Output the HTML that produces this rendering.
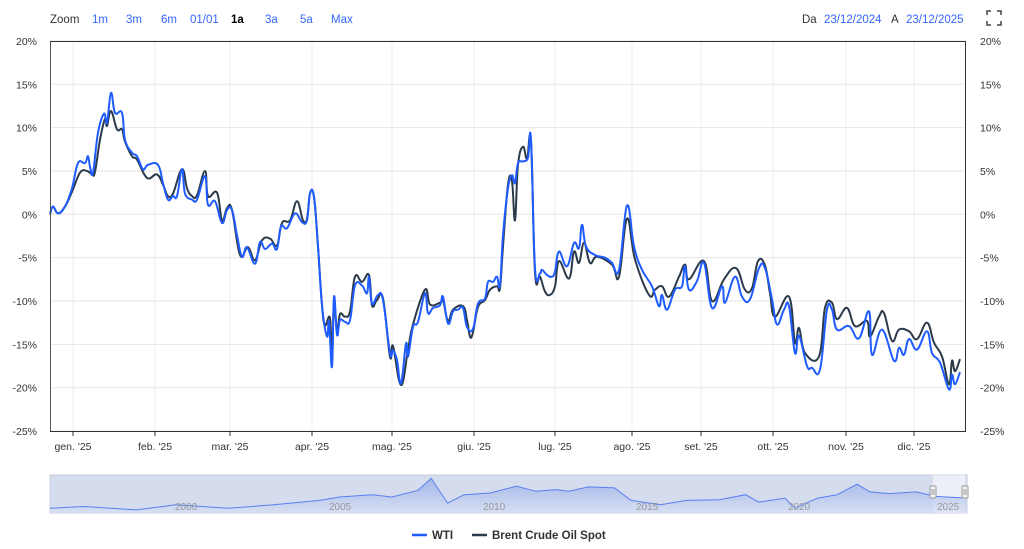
<!DOCTYPE html>
<html><head><meta charset="utf-8">
<style>
html,body{margin:0;padding:0;background:#fff;width:1024px;height:549px;overflow:hidden;font-family:"Liberation Sans",Arial,sans-serif;}
svg text{font-family:"Liberation Sans",Arial,sans-serif;}
</style></head>
<body>
<svg id="s" width="1024" height="549" xmlns="http://www.w3.org/2000/svg">
<defs>
<linearGradient id="g" x1="0" y1="0" x2="0" y2="1">
<stop offset="0" stop-color="#8ea6e6"/><stop offset="1" stop-color="#d8e0f4"/>
</linearGradient>
</defs>
<rect width="1024" height="549" fill="#fff"/>
<g font-size="11.5">
<text x="50" y="23" fill="#333">Zoom</text>
<text x="92" y="23" fill="#3366ff">1m</text>
<text x="126" y="23" fill="#3366ff">3m</text>
<text x="161" y="23" fill="#3366ff">6m</text>
<text x="190" y="23" fill="#3366ff">01/01</text>
<text x="231" y="23" fill="#000" font-weight="bold">1a</text>
<text x="265" y="23" fill="#3366ff">3a</text>
<text x="300" y="23" fill="#3366ff">5a</text>
<text x="331" y="23" fill="#3366ff">Max</text>
<text x="802" y="23" fill="#333">Da</text>
<text x="824" y="23" fill="#3366ff">23/12/2024</text>
<text x="891" y="23" fill="#333">A</text>
<text x="906" y="23" fill="#3366ff">23/12/2025</text>
</g>
<g stroke="#444" stroke-width="1.5" fill="none">
<path d="M987 15v-4h4M997 11h4v4M1001 21v4h-4M991 25h-4v-4"/>
</g>
<g id="grid"></g>
<g id="lines"></g>
<line x1="50.5" y1="41" x2="50.5" y2="432" stroke="#555" stroke-width="1"/>
<line x1="965.5" y1="41" x2="965.5" y2="432" stroke="#333" stroke-width="1"/>
<line x1="50" y1="41.5" x2="966" y2="41.5" stroke="#333" stroke-width="1"/>
<line x1="50" y1="431.5" x2="966" y2="431.5" stroke="#333" stroke-width="1"/>
<rect x="50" y="475" width="917" height="38" fill="#d5dcee" stroke="#c8cede"/>
<rect x="933" y="475" width="32" height="38" fill="#fff" fill-opacity="0.55"/>
<path id="navfill" fill="url(#g)" fill-opacity="0.7"/>
<path id="navline" fill="none" stroke="#5b7ff0" stroke-width="1"/>
<g font-size="10" fill="#999">
<text x="175" y="510">2000</text><text x="329" y="510">2005</text><text x="483" y="510">2010</text>
<text x="636" y="510">2015</text><text x="788" y="510">2020</text><text x="937" y="510">2025</text>
</g>
<g stroke="#999" fill="#f2f2f2">
<rect x="930" y="486" width="6" height="12" rx="1"/><rect x="962" y="486" width="6" height="12" rx="1"/>
</g>
<g stroke="#999"><line x1="932" y1="489" x2="932" y2="495"/><line x1="934" y1="489" x2="934" y2="495"/>
<line x1="964" y1="489" x2="964" y2="495"/><line x1="966" y1="489" x2="966" y2="495"/></g>
<line x1="412" y1="535" x2="427" y2="535" stroke="#1f5cff" stroke-width="2.5"/>
<text x="432" y="539" font-size="11.5" font-weight="bold" fill="#333">WTI</text>
<line x1="472" y1="535" x2="487" y2="535" stroke="#2b3a4a" stroke-width="2.5"/>
<text x="492" y="539" font-size="11.5" font-weight="bold" fill="#333">Brent Crude Oil Spot</text>
</svg>
<script>
var NS="http://www.w3.org/2000/svg";
function el(p,t,a,txt){var e=document.createElementNS(NS,t);for(var k in a)e.setAttribute(k,a[k]);if(txt!==undefined)e.textContent=txt;p.appendChild(e);return e;}
var grid=document.getElementById("grid");
function Y(v){return 214.3-v*8.67;}
for(var v=20;v>=-25;v-=5){var y=Y(v);
 el(grid,"line",{x1:50,x2:966,y1:y,y2:y,stroke:"#e6e6e6"});
 el(grid,"text",{x:37,y:y+4,"font-size":"10.5","text-anchor":"end",fill:"#333"},v+"%");
 el(grid,"text",{x:980,y:y+4,"font-size":"10.5",fill:"#333"},v+"%");}
var months=[[73,"gen. '25"],[155,"feb. '25"],[230,"mar. '25"],[312,"apr. '25"],[392,"mag. '25"],[474,"giu. '25"],[555,"lug. '25"],[632,"ago. '25"],[701,"set. '25"],[773,"ott. '25"],[846,"nov. '25"],[914,"dic. '25"]];
months.forEach(function(m){el(grid,"line",{x1:m[0],x2:m[0],y1:42,y2:431,stroke:"#ececec"});
 el(grid,"line",{x1:m[0],x2:m[0],y1:431,y2:436,stroke:"#333"});
 el(grid,"text",{x:m[0],y:450,"font-size":"10.5","text-anchor":"middle",fill:"#333"},m[1]);});
var wti=[50,0,53,0.9,58,0.1,65,0.9,72,3,78,5.9,85,5.9,88,6.7,90,5.5,93,4.8,98,9.4,104,11.6,107,10.6,111,14,115,11.7,122,11.7,125,8.6,132,7.1,137,6.7,143,5.2,148,5.7,158,5.7,163,3.6,168,1.7,173,2.1,177,2.1,182,5.2,185,2.4,192,1.7,197,1.7,205,4.4,208,1.1,215,1.5,222,-1,227,0.5,232,0.5,237,-2.4,242,-4.9,247,-3.8,255,-5.7,260,-3.2,265,-4,272,-3.4,277,-4,281,-1.4,287,-1.6,295,0.1,302,-0.9,307,-0.7,310,2.4,314,2,318,-3.7,322,-10.5,327,-14.1,329,-12.4,332,-17.6,334,-9.5,337,-13.9,340,-12.2,345,-12.4,350,-12.2,355,-8.2,362,-8.2,367,-9.1,369,-7.2,372,-10.3,378,-9.3,383,-9.9,390,-16,393,-15.7,397,-16.8,401,-19.5,406,-14.9,408,-16.4,413,-13,418,-12.4,425,-9.1,428,-11.4,433,-10.8,440,-10.5,443,-9.5,448,-12.6,453,-11.2,458,-11,463,-10.8,467,-13,473,-13.2,478,-10.3,485,-9.7,488,-7.8,493,-7.8,497,-7.2,500,-8.2,503,-2.4,508,3,512,4.5,515,3.6,518,5.9,523,6.1,528,6.5,531,8.6,535,-6.2,540,-6.8,542,-6.4,547,-7,552,-7.2,555,-6.6,559,-4.3,567,-6,574,-3.3,579,-3.9,582,-1.2,586,-3.7,595,-4.7,605,-5,612,-5.6,619,-6.4,627,1,634,-3.7,642,-6.4,652,-8.3,659,-10.6,662,-9.3,667,-11,675,-8.7,682,-8.3,685,-6,689,-8.7,697,-7.7,704,-5.6,712,-10.8,722,-8.3,725,-10.2,735,-7.2,742,-9.5,750,-9.8,759,-6.2,765,-6.2,772,-9.8,777,-12.7,784,-11,789,-10.6,795,-16,799,-14,807,-17.5,812,-17.7,820,-17.9,827,-11,832,-11,837,-13.3,849,-12.9,859,-14.3,869,-11.2,872,-16.2,882,-13.3,894,-16.9,899,-15.4,904,-16.2,909,-14.4,917,-15.6,927,-13.5,932,-16,940,-17.1,949,-20.2,952,-18.5,955,-19.6,960,-18.2];
var brent=[50,0,53,0.9,58,0.1,65,0.9,72,2.6,80,4.8,87,5,92,4.6,95,4.9,100,8.6,105,11,107,10.2,111,11.9,117,9.8,122,9.8,125,8.4,132,6.7,137,6.3,147,4.2,157,4.6,163,3.4,168,2.1,173,2.4,182,5.2,187,3,192,2.1,197,2.2,205,5,208,2.1,217,2.5,222,-0.7,227,0.7,232,0.5,240,-4.7,248,-3.8,255,-5.3,262,-3,270,-2.8,277,-3.6,282,-1,290,-0.7,297,1.5,303,-0.7,307,-0.5,310,2.4,314,2,318,-3.7,322,-10.5,325,-12.8,330,-12,332,-17,334,-10,337,-13.5,340,-11.5,345,-11.8,350,-11.2,355,-7.2,362,-7.8,369,-7,372,-10.5,377,-9.9,383,-9.7,390,-16.4,393,-15.2,401,-19.7,408,-15.6,413,-12.7,425,-8.7,430,-10.4,440,-10.2,443,-9.9,448,-12.3,453,-11,463,-10.6,467,-12.2,470,-14.1,473,-13.6,478,-10.7,485,-9.9,490,-8.7,497,-8.3,500,-8.5,503,-3.7,508,3.4,512,3.8,515,-0.7,518,5.7,523,7.8,527,6.4,531,8.4,535,-6.7,540,-7.2,545,-8.9,550,-9.3,555,-8.3,559,-5.4,569,-7.4,574,-4.3,579,-5.6,584,-3.3,590,-5.6,597,-4.9,612,-5.8,619,-7.2,627,-0.5,635,-5.2,649,-9.3,655,-8.7,662,-8.3,669,-9.5,679,-7.2,685,-5.8,689,-7.5,704,-5.4,712,-10,724,-7.5,736,-6.2,745,-8.7,752,-8.5,758,-5.4,765,-5.9,770,-9.1,775,-11.8,789,-9.5,795,-14.8,799,-13.1,805,-16,819,-16.4,825,-10.8,832,-10.2,837,-12.1,847,-10.8,855,-12.9,867,-12.3,870,-14.1,879,-11.8,884,-11.4,892,-14.6,899,-13.3,909,-13.5,917,-14.4,927,-12.5,934,-14.8,942,-16.4,949,-19.6,952,-16.9,955,-18.1,960,-16.7];
function smooth(a){var P=[];for(var i=0;i<a.length;i+=2)P.push([a[i],Y(a[i+1])]);
 var d="M"+P[0][0]+" "+P[0][1].toFixed(1);
 for(var i=0;i<P.length-1;i++){var p0=P[i-1]||P[i],p1=P[i],p2=P[i+1],p3=P[i+2]||p2,t=0.2;
  var c1x=p1[0]+(p2[0]-p0[0])*t,c1y=p1[1]+(p2[1]-p0[1])*t,c2x=p2[0]-(p3[0]-p1[0])*t,c2y=p2[1]-(p3[1]-p1[1])*t;
  d+="C"+c1x.toFixed(1)+" "+c1y.toFixed(1)+" "+c2x.toFixed(1)+" "+c2y.toFixed(1)+" "+p2[0]+" "+p2[1].toFixed(1);}
 return d;}
var L=document.getElementById("lines");
el(L,"path",{d:smooth(brent),fill:"none",stroke:"#2b3a4a","stroke-width":2,"stroke-linejoin":"round"});
el(L,"path",{d:smooth(wti),fill:"none",stroke:"#1f5cff","stroke-width":2,"stroke-linejoin":"round"});
var nav=[78,143,130,138,210,148,270,133,350,143,420,133,490,120,520,110,570,103,600,110,640,90,660,55,685,128,710,103,750,98,790,78,820,93,850,88,870,93,900,80,940,83,965,120,1010,133,1050,120,1100,118,1140,103,1160,125,1200,113,1215,143,1250,113,1280,103,1310,72,1330,95,1360,100,1400,95,1430,108,1478,113];
var d="";for(var i=0;i<nav.length;i+=2){var x=50+(nav[i]-78)*0.655,y=475+(nav[i+1]-45)*0.339;d+=(i?"L":"M")+x.toFixed(1)+" "+y.toFixed(1);}
document.getElementById("navline").setAttribute("d",d);
document.getElementById("navfill").setAttribute("d",d+"L967 513L50 513Z");
</script>
</body></html>
